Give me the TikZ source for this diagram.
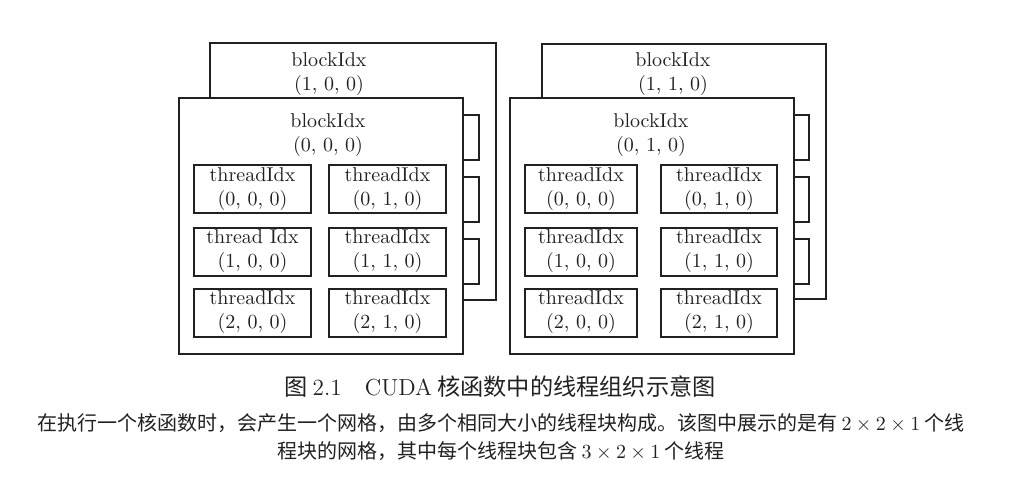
\documentclass[tikz,border=0pt]{standalone}
\usepackage{fontspec}
\newfontfamily\cjkfont{Noto Sans CJK SC}
\newcommand{\difont}{\fontsize{10}{12}\selectfont}
\definecolor{ink}{gray}{0.13}
\begin{document}
\begin{tikzpicture}[x=0.5pt,y=-0.5pt,
  blockbox/.style={draw=ink, line width=1pt, fill=white, inner sep=0pt, minimum width=142pt, minimum height=128pt},
  stubbox/.style={draw=ink, line width=1pt, fill=white, inner sep=0pt, minimum height=22.5pt},
  tbox/.style={draw=ink, line width=1pt, fill=white, inner sep=0pt, minimum height=24pt, align=center, font=\difont, text=ink},
  lbl/.style={inner sep=0pt, align=center, font=\difont, text=ink},
  captext/.style={inner sep=0pt, anchor=base, text=ink}]
\useasboundingbox[fill=white] (0,0) rectangle (1018,487);

% ---------- left group ----------
\node[blockbox, minimum width=143pt, minimum height=128.5pt] (LB) at (353,171.5) {};
\node[lbl] (LBlbl) at (329,74.5) {blockIdx\\(1, 0, 0)};
\node[stubbox, minimum width=58.5pt] (LS1) at (420.5,137.5) {};
\node[stubbox, minimum width=58.5pt] (LS2) at (420.5,199.5) {};
\node[stubbox, minimum width=58.5pt] (LS3) at (420.5,261) {};
\node[blockbox] (LF) at (321,226) {};
\node[lbl] (LFlbl) at (328,135.5) {blockIdx\\(0, 0, 0)};
\node[tbox, minimum width=58.5pt] (L00) at (252.5,189) {threadIdx\\(0, 0, 0)};
\node[tbox, minimum width=58.5pt] (L01) at (387.5,189) {threadIdx\\(0, 1, 0)};
\node[tbox, minimum width=58.5pt] (L10) at (252.5,251.5) {thread Idx\\(1, 0, 0)};
\node[tbox, minimum width=58.5pt] (L11) at (387.5,251.5) {threadIdx\\(1, 1, 0)};
\node[tbox, minimum width=58.5pt] (L20) at (252.5,312.5) {threadIdx\\(2, 0, 0)};
\node[tbox, minimum width=58.5pt] (L21) at (387.5,312.5) {threadIdx\\(2, 1, 0)};

% ---------- right group ----------
\node[blockbox, minimum height=127.5pt] (RB) at (684,171.5) {};
\node[lbl] (RBlbl) at (673,74.5) {blockIdx\\(1, 1, 0)};
\node[stubbox, minimum width=58pt] (RS1) at (751,137.5) {};
\node[stubbox, minimum width=58pt] (RS2) at (751,199.5) {};
\node[stubbox, minimum width=58pt] (RS3) at (751,261) {};
\node[blockbox] (RF) at (652,226) {};
\node[lbl] (RFlbl) at (651,135.5) {blockIdx\\(0, 1, 0)};
\node[tbox, minimum width=56pt] (R00) at (581,189) {threadIdx\\(0, 0, 0)};
\node[tbox, minimum width=58pt] (R01) at (719,189) {threadIdx\\(0, 1, 0)};
\node[tbox, minimum width=56pt] (R10) at (581,251.5) {threadIdx\\(1, 0, 0)};
\node[tbox, minimum width=58pt] (R11) at (719,251.5) {threadIdx\\(1, 1, 0)};
\node[tbox, minimum width=56pt] (R20) at (581,312.5) {threadIdx\\(2, 0, 0)};
\node[tbox, minimum width=58pt] (R21) at (719,312.5) {threadIdx\\(2, 1, 0)};

% ---------- caption ----------
\node[captext, font=\cjkfont\fontsize{11.6}{13}\selectfont] (title) at (500,395)
  {图 {\rmfamily 2.1}\quad{\rmfamily CUDA} 核函数中的线程组织示意图};
\node[captext, font=\cjkfont\fontsize{10}{12}\selectfont] (desc1) at (501,430)
  {在执行一个核函数时，会产生一个网格，由多个相同大小的线程块构成。该图中展示的是有\ $2\times2\times1$\ 个线};
\node[captext, font=\cjkfont\fontsize{10}{12}\selectfont] (desc2) at (501,458)
  {程块的网格，其中每个线程块包含\ $3\times2\times1$\ 个线程};
\end{tikzpicture}
\end{document}
